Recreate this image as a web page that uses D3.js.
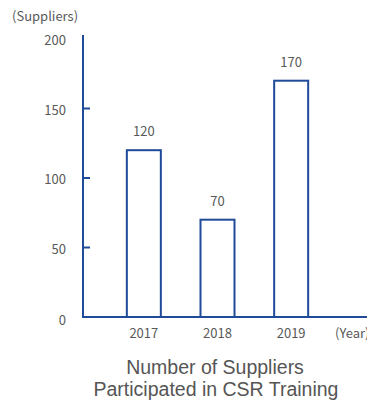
<!DOCTYPE html>
<html lang="en">
<head>
  <meta charset="UTF-8">
  <title>CSR Training</title>
  <script src="https://cdn.jsdelivr.net/npm/d3@7"></script>
  <style>
    body { margin: 0; background: #fff; }
    text { font-family: "Noto Sans CJK JP", "Noto Sans", sans-serif; fill: #595959; }
  </style>
</head>
<body>
  <svg width="367" height="401" id="main"></svg>
<script>
  // data
  const years = ['2017', '2018', '2019'];
  const suppliers = [120, 70, 170];
  const yTicks = [0, 50, 100, 150, 200];

  const svg = d3.select('#main');
  const blue = '#1f4b99';

  const x = d3.scalePoint().domain(years).range([107, 328]).padding(0.5);
  const y = d3.scaleLinear().domain([0, 200]).range([317, 39]);
  const barW = 34;

  // y tick labels
  svg.append('g').selectAll('text')
    .data(yTicks)
    .enter()
    .append('text')
    .attr('x', 66)
    .attr('y', d => y(d) + (d === 0 ? 8 : 6))
    .attr('text-anchor', 'end')
    .attr('font-size', 13)
    .text(d => d);

  // small inner ticks
  svg.append('g').selectAll('line')
    .data(yTicks.filter(d => d > 0 && d < 200))
    .enter()
    .append('line')
    .attr('x1', 83).attr('x2', 90)
    .attr('y1', d => y(d)).attr('y2', d => y(d))
    .attr('stroke', blue).attr('stroke-width', 2);

  svg.append('text')
    .attr('x', 12).attr('y', 21)
    .attr('font-size', 13)
    .text('(Suppliers)');

  // bars
  svg.append('g').selectAll('rect')
    .data(suppliers)
    .enter()
    .append('rect')
    .attr('x', (d, i) => x(years[i]) - barW / 2)
    .attr('y', d => y(d))
    .attr('width', barW)
    .attr('height', d => y(0) - y(d))
    .attr('fill', '#fff')
    .attr('stroke', blue)
    .attr('stroke-width', 2);

  // value labels
  svg.append('g').selectAll('text')
    .data(suppliers)
    .enter()
    .append('text')
    .attr('x', (d, i) => x(years[i]))
    .attr('y', d => y(d) - 14)
    .attr('text-anchor', 'middle')
    .attr('font-size', 13)
    .text(d => d);

  // axes lines
  svg.append('line')
    .attr('x1', 83).attr('x2', 83)
    .attr('y1', 35).attr('y2', y(0) + 1)
    .attr('stroke', blue).attr('stroke-width', 2);
  svg.append('line')
    .attr('x1', 82).attr('x2', 367)
    .attr('y1', y(0)).attr('y2', y(0))
    .attr('stroke', blue).attr('stroke-width', 2);

  // x labels
  svg.append('g').selectAll('text')
    .data(years)
    .enter()
    .append('text')
    .attr('x', d => x(d))
    .attr('y', 338)
    .attr('text-anchor', 'middle')
    .attr('font-size', 13)
    .text(d => d);

  svg.append('text')
    .attr('x', 335).attr('y', 338)
    .attr('font-size', 13)
    .text('(Year)');

  // title
  const title = svg.append('text')
    .attr('text-anchor', 'middle')
    .attr('font-size', 19.5)
    .style('font-family', '"Liberation Sans", Arial, sans-serif')
    .style('fill', '#555');
  title.append('tspan').attr('x', 215).attr('y', 374).text('Number of Suppliers');
  title.append('tspan').attr('x', 216).attr('y', 396).text('Participated in CSR Training');
</script>
</body>
</html>
